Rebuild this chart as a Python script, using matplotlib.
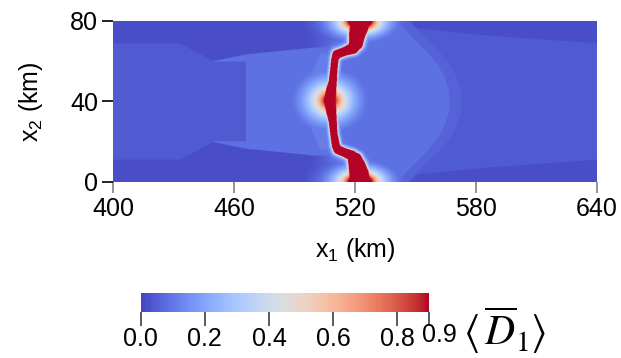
import numpy as np
import matplotlib
matplotlib.use("Agg")
import matplotlib.pyplot as plt
from matplotlib import transforms
from matplotlib.colors import ListedColormap

plt.rcParams['font.family'] = ['Liberation Sans', 'DejaVu Sans']
plt.rcParams['mathtext.default'] = 'regular'

# ---- domain (km) ----
x1_range = [400, 640]
x2_range = [0, 80]
x1_ticks = [400, 460, 520, 580, 640]
x2_ticks = [0, 40, 80]
cbar_ticks = [0.0, 0.2, 0.4, 0.6, 0.8, 0.9]
d_max = 0.9

# ---- fully damaged band: trace (x2, x1 centre) and half-width ----
crack_x2 = [0, 4, 8, 11, 13, 14.5, 16, 18, 24, 30, 35, 40.5, 46, 50, 56, 61, 63.5, 65, 66.5, 69, 73, 77, 80]
crack_x1 = [522.5, 522, 521, 520, 518.5, 515, 511.5, 510.5, 509.5, 509, 508.2, 507.5,
            508.2, 509, 509.5, 510, 511, 515, 519, 520.5, 521, 522, 522.5]
crack_hw = [5.2, 4.8, 4.2, 3.6, 2.6, 2.2, 2.2, 2.0, 1.8, 2.0, 2.5, 3.0,
            2.5, 2.0, 1.8, 1.8, 2.2, 2.2, 2.8, 3.5, 4.0, 4.6, 5.2]

# thin fringe along the band edge and a wider glow, varying along x2
fringe_amp = 0.45
fringe_len = 0.8
glow_x2 = [0, 4, 8, 12, 20, 40, 60, 68, 72, 76, 80]
glow_amp = [0.3, 0.25, 0.16, 0.12, 0.1, 0.1, 0.1, 0.12, 0.16, 0.25, 0.3]
glow_len = 7.0

# damage spots: bulge at mid-depth and the two free-surface ends
spot_x1 = [522.5, 507.5, 522.5]
spot_x2 = [0.0, 40.5, 80.0]
spot_amp = [2.4, 1.3, 2.4]
spot_len = [6.0, 7.0, 6.0]
spot_stretch = [1.8, 1.15, 1.8]

# ---- background damage zones ----
level_outer = 0.02
level_mid = 0.045
level_light = 0.09
level_near = 0.115
level_ring = 0.06

zoneA_x1 = [400, 433, 450, 466]      # left block, half-height about x2 = 40
zoneA_half = [29.0, 29.0, 20.0, 19.8]
zoneB_x1 = [449, 466, 501]           # left wedge reaching the band
zoneB_half = [20.0, 23.5, 27.0]
near_x2 = [16, 25, 33, 40, 48, 55, 64]   # lighter strip beside the band
near_x1 = [503, 499, 497, 494, 497, 499, 503]
zoneC_dy = [0, 6, 13, 19, 25, 32, 40]    # right front, x1 position vs |x2 - 40|
zoneC_x1 = [567, 566.5, 564, 560.5, 555.6, 548.5, 540.7]
zoneD_x1 = [545, 582, 640]           # right block, half-height
zoneD_half = [37.0, 33.2, 29.0]

# ---- field on a grid ----
x1 = np.linspace(x1_range[0], x1_range[1], 1201)
x2 = np.linspace(x2_range[0], x2_range[1], 401)
X1, X2 = np.meshgrid(x1, x2)
dy = np.abs(X2 - 40)
xc = np.interp(X2, crack_x2, crack_x1)
left = X1 < xc
right = ~left

bg = np.full_like(X1, level_outer)
zoneA = (X1 < 466) & (dy < np.interp(X1, zoneA_x1, zoneA_half))
bg[zoneA] = level_mid
zoneB = left & (X1 > 449) & (dy < np.interp(X1, zoneB_x1, zoneB_half)) & ~zoneA
bg[zoneB] = level_light
near = left & (X2 > near_x2[0]) & (X2 < near_x2[-1]) & (X1 > np.interp(X2, near_x2, near_x1))
bg[near] = level_near
zoneD = right & (dy < np.interp(X1, zoneD_x1, zoneD_half))
bg[zoneD] = level_mid
frontC = np.interp(dy, zoneC_dy, zoneC_x1)
bg[right & (X1 < frontC + 6)] = level_ring
bg[right & (X1 < frontC)] = level_light

# distance to the band edge
cx = np.array(crack_x1, float)
cy = np.array(crack_x2, float)
hw = np.array(crack_hw, float)
d_edge = np.full_like(X1, np.inf)
for i in range(len(cx) - 1):
    ax_, ay_ = cx[i], cy[i]
    bx_, by_ = cx[i + 1], cy[i + 1]
    vx, vy = bx_ - ax_, by_ - ay_
    t = np.clip(((X1 - ax_) * vx + (X2 - ay_) * vy) / (vx * vx + vy * vy), 0, 1)
    px = ax_ + t * vx
    py = ay_ + t * vy
    d = np.hypot(X1 - px, X2 - py) - (hw[i] + t * (hw[i + 1] - hw[i]))
    d_edge = np.minimum(d_edge, d)

dpos = np.clip(d_edge, 0, None)
glow = np.interp(X2, glow_x2, glow_amp)
halo = fringe_amp * np.exp(-dpos / fringe_len) + glow * np.exp(-dpos / glow_len)
for sx, sy, sa, sl, sk in zip(spot_x1, spot_x2, spot_amp, spot_len, spot_stretch):
    r = np.hypot(X1 - sx, (X2 - sy) * sk)
    halo = np.maximum(halo, sa * np.exp(-r / sl))
field = np.maximum(bg, halo)
field[d_edge <= 0] = d_max

# cool-to-warm map with a slightly violet low end
cw = plt.get_cmap('coolwarm')(np.linspace(0, 1, 256))
tt = np.linspace(0, 1, 256)
wt = np.clip(1 - tt / 0.25, 0, 1)
cw[:, 0] = np.clip(cw[:, 0] + wt * 10 / 255, 0, 1)
cw[:, 1] = np.clip(cw[:, 1] - wt * 8 / 255, 0, 1)
cmap = ListedColormap(cw)

# ---- figure ----
fig = plt.figure(figsize=(6.21, 3.58), dpi=100)
ax = fig.add_axes([0.1825, 0.4925, 0.7785, 0.4489])
im = ax.imshow(field, origin='lower', extent=[*x1_range, *x2_range], cmap=cmap,
               vmin=0, vmax=d_max, aspect='auto', interpolation='antialiased')
for s in ax.spines.values():
    s.set_visible(False)
ax.set_xticks(x1_ticks)
ax.set_yticks(x2_ticks)
ax.tick_params(axis='x', length=8, width=1.2, color='#808080', labelsize=18, pad=3)
ax.tick_params(axis='y', length=8, width=1.2, color='black', labelsize=18, pad=3)
ax.set_xlabel('x$_1$ (km)', fontsize=18)
ax.set_ylabel('x$_2$ (km)', fontsize=18)
ax.xaxis.set_label_coords(0.5, -0.335)
ax.yaxis.set_label_coords(-0.142, 0.5)

cax = fig.add_axes([0.2266, 0.1296, 0.4648, 0.0514])
cb = fig.colorbar(im, cax=cax, orientation='horizontal')
cb.outline.set_visible(False)
cb.set_ticks(cbar_ticks)
cb.set_ticklabels(['0.0', '0.2', '0.4', '0.6', '0.8', ''])
cax.tick_params(length=10, width=1.2, color='#404040', labelsize=18, pad=1)
last = transforms.offset_copy(cax.get_xaxis_transform(), fig=fig, x=10, y=-11.4, units='dots')
cax.text(cbar_ticks[-1], 0, '0.9', transform=last, ha='center', va='top', fontsize=18)
fig.text(0.745, 0.078, r'$\langle\,\overline{\mathit{D}}_{\mathrm{1}}\rangle$', fontsize=30,
         math_fontfamily='stix', ha='left', va='center')

fig.savefig('out.png', dpi=100)
